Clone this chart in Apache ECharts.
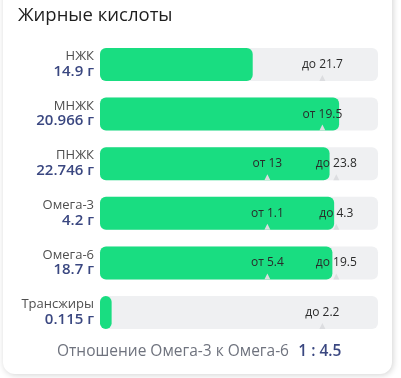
<!DOCTYPE html>
<html>
<head>
<meta charset="utf-8">
<script src="https://cdn.jsdelivr.net/npm/echarts@6/dist/echarts.min.js"></script>
<style>
  html, body { margin: 0; padding: 0; background: #fff; }
  #main { width: 401px; height: 378px; }
</style>
</head>
<body>
<div id="main"></div>
<script>
// данные
var names = ['НЖК', 'МНЖК', 'ПНЖК', 'Омега-3', 'Омега-6', 'Трансжиры'];
var amounts = [14.9, 20.966, 22.746, 4.2, 18.7, 0.115];
var lows = [null, 19.5, 13, 1.1, 5.4, null];
var highs = [21.7, null, 23.8, 4.3, 19.5, 2.2];
var ratio = '1 : 4.5';

// положение нормы на шкале (в % от полосы)
var P_ONE = 80, P_LO = 60.2, P_HI = 85;

function toPct(i, v) {
    var lo = lows[i], hi = highs[i], p;
    if (lo != null && hi != null) {
        p = P_LO + (v - lo) / (hi - lo) * (P_HI - P_LO);
    } else {
        p = v / (hi != null ? hi : lo) * P_ONE;
    }
    return Math.max(0, Math.min(100, p));
}

var track = [], fill = [], marks = [];
for (var i = 0; i < names.length; i++) {
    track.push(100);
    fill.push(toPct(i, amounts[i]));
    if (lows[i] != null && highs[i] != null) {
        marks.push([P_LO, i, 'от ' + lows[i]]);
        marks.push([P_HI, i, 'до ' + highs[i]]);
    } else if (lows[i] != null) {
        marks.push([P_ONE, i, 'от ' + lows[i]]);
    } else {
        marks.push([P_ONE, i, 'до ' + highs[i]]);
    }
}

var myChart = echarts.init(document.getElementById('main'));
var FONT = '"Open Sans", sans-serif';

var option = {
    animation: false,
    textStyle: { fontFamily: FONT },
    graphic: [
        {
            type: 'rect', z: -10,
            shape: { x: 3, y: -20, width: 389, height: 394, r: 12 },
            style: { fill: '#fff', shadowBlur: 6, shadowColor: 'rgba(0,0,0,0.18)', shadowOffsetX: 1, shadowOffsetY: 1 }
        },
        {
            type: 'text', left: 18, top: 6,
            style: { text: 'Жирные кислоты', fontSize: 18.5, fontFamily: FONT, fill: '#1e1e1e' }
        },
        {
            type: 'text', left: 57, top: 344,
            style: {
                text: '{a|Отношение Омега-3 к Омега-6}   {b|' + ratio + '}',
                fontFamily: FONT,
                rich: {
                    a: { fontSize: 15.5, fill: '#6f737e', fontFamily: FONT },
                    b: { fontSize: 15.5, fill: '#3a4780', fontWeight: 600, fontFamily: FONT }
                }
            }
        }
    ],
    grid: { left: 100, right: 23, top: 39.7, bottom: 40.7 },
    xAxis: { type: 'value', min: 0, max: 100, show: false },
    yAxis: {
        type: 'category',
        inverse: true,
        data: names,
        axisLine: { show: false },
        axisTick: { show: false },
        axisLabel: {
            margin: 6,
            align: 'right',
            formatter: function (value, index) {
                return '{n|' + value + '}\n{v|' + amounts[index] + ' г}';
            },
            rich: {
                n: { fontSize: 13, color: '#4f4f4f', lineHeight: 14, align: 'right', fontFamily: FONT },
                v: { fontSize: 15, color: '#3a4780', fontWeight: 600, lineHeight: 16, align: 'right', fontFamily: FONT }
            }
        }
    },
    series: [
        {
            type: 'bar',
            data: track,
            barWidth: 33,
            barGap: '-100%',
            silent: true,
            itemStyle: { color: '#eff0f2', borderRadius: 6 }
        },
        {
            type: 'bar',
            data: fill,
            barWidth: 33,
            itemStyle: { color: '#19dd81', borderRadius: 6 }
        },
        {
            type: 'custom',
            data: marks,
            encode: { x: 0, y: 1 },
            z: 5,
            renderItem: function (params, api) {
                var p = api.coord([api.value(0), api.value(1)]);
                var b = p[1] + 16.5;
                return {
                    type: 'group',
                    children: [
                        {
                            type: 'polygon',
                            shape: { points: [[p[0] - 3, b], [p[0] + 3, b], [p[0], b - 6]] },
                            style: { fill: '#dcdde0' }
                        },
                        {
                            type: 'text',
                            style: {
                                x: p[0], y: p[1],
                                text: marks[params.dataIndex][2],
                                fontSize: 12, fontFamily: FONT, fill: '#2b2b2b',
                                align: 'center', verticalAlign: 'middle'
                            }
                        }
                    ]
                };
            }
        }
    ]
};

option && myChart.setOption(option);
</script>
</body>
</html>
